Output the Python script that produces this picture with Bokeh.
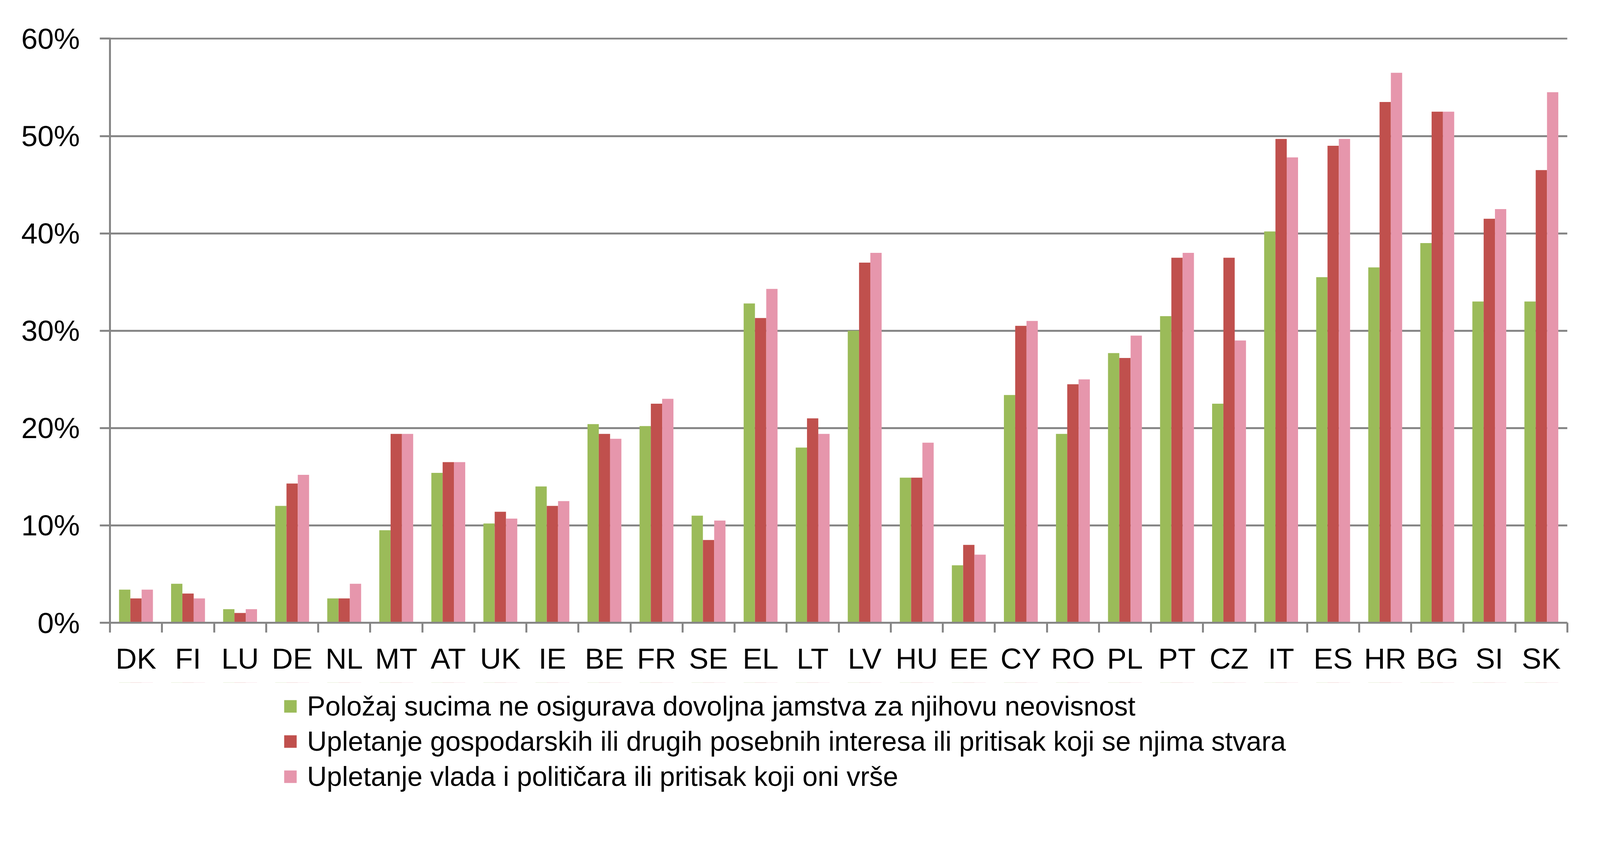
from bokeh.plotting import figure
from bokeh.layouts import column
from bokeh.models import (Range1d, LinearAxis, FixedTicker,
                          PrintfTickFormatter, CustomJSTickFormatter, Legend, LegendItem,
                          ColumnDataSource)
from bokeh.transform import dodge
from bokeh.embed import file_html
from bokeh.resources import INLINE

countries = ["DK", "FI", "LU", "DE", "NL", "MT", "AT", "UK", "IE", "BE", "FR", "SE", "EL", "LT",
             "LV", "HU", "EE", "CY", "RO", "PL", "PT", "CZ", "IT", "ES", "HR", "BG", "SI", "SK"]
polozaj = [3.4, 4.0, 1.4, 12.0, 2.5, 9.5, 15.4, 10.2, 14.0, 20.4, 20.2, 11.0, 32.8, 18.0,
           30.0, 14.9, 5.9, 23.4, 19.4, 27.7, 31.5, 22.5, 40.2, 35.5, 36.5, 39.0, 33.0, 33.0]
gospodarski = [2.5, 3.0, 1.0, 14.3, 2.5, 19.4, 16.5, 11.4, 12.0, 19.4, 22.5, 8.5, 31.3, 21.0,
               37.0, 14.9, 8.0, 30.5, 24.5, 27.2, 37.5, 37.5, 49.7, 49.0, 53.5, 52.5, 41.5, 46.5]
vlada = [3.4, 2.5, 1.4, 15.2, 4.0, 19.4, 16.5, 10.7, 12.5, 18.9, 23.0, 10.5, 34.3, 19.4,
         38.0, 18.5, 7.0, 31.0, 25.0, 29.5, 38.0, 29.0, 47.8, 49.7, 56.5, 52.5, 42.5, 54.5]
series_labels = [
    "Položaj sucima ne osigurava dovoljna jamstva za njihovu neovisnost",
    "Upletanje gospodarskih ili drugih posebnih interesa ili pritisak koji se njima stvara",
    "Upletanje vlada i političara ili pritisak koji oni vrše",
]
y_ticks = [0, 10, 20, 30, 40, 50, 60]

colors = ["#9BBB59", "#C0504D", "#E696AC"]
FONT = "Liberation Sans"
AXIS_GRAY = "#868686"

W = 4092
H_CHART = 1746
H_LEG = 339

n = len(countries)
centers = [i + 0.5 for i in range(n)]
columns = ["polozaj", "gospodarski", "vlada"]
source = ColumnDataSource(dict(country=countries, pos=centers, polozaj=polozaj,
                               gospodarski=gospodarski, vlada=vlada))

p = figure(width=W, height=H_CHART,
           x_range=Range1d(0, n), y_range=Range1d(0, 60.1),
           output_backend="svg", toolbar_location=None,
           x_axis_location=None, y_axis_location="left",
           min_border_left=281, min_border_right=80,
           min_border_top=96, min_border_bottom=153)
p.outline_line_color = None
p.background_fill_color = "white"
p.border_fill_color = "white"

bw = 0.217
offsets = [-bw, 0.0, bw]
for col, off, c in zip(columns, offsets, colors):
    p.vbar(x=dodge("pos", off), top=col, width=bw,
           bottom=0, source=source, fill_color=c, line_color=None)

# y axis
yax = p.yaxis[0]
yax.ticker = FixedTicker(ticks=y_ticks)
yax.formatter = PrintfTickFormatter(format="%d%%")
yax.axis_line_color = AXIS_GRAY
yax.axis_line_width = 5
yax.major_tick_line_color = AXIS_GRAY
yax.major_tick_line_width = 5
yax.major_tick_out = 26
yax.major_tick_in = 0
yax.minor_tick_line_color = None
yax.major_label_standoff = 51
yax.major_label_text_font = FONT
yax.major_label_text_font_size = "75px"
yax.major_label_text_color = "black"

p.ygrid.ticker = FixedTicker(ticks=y_ticks)
p.ygrid.grid_line_color = AXIS_GRAY
p.ygrid.grid_line_width = 5
p.xgrid.visible = False

# x axis: tick marks on category boundaries
edge_axis = LinearAxis(ticker=FixedTicker(ticks=list(range(n + 1))),
                       formatter=CustomJSTickFormatter(code="return ''"),
                       major_label_text_font_size="1px",
                       major_label_standoff=0,
                       axis_line_color=AXIS_GRAY, axis_line_width=5,
                       major_tick_line_color=AXIS_GRAY, major_tick_line_width=5,
                       major_tick_out=25, major_tick_in=0,
                       minor_tick_line_color=None)
p.add_layout(edge_axis, "below")

# x axis: category names at category centres
label_axis = LinearAxis(ticker=FixedTicker(ticks=centers),
                        formatter=CustomJSTickFormatter(args=dict(names=countries),
                                                        code="return names[Math.floor(tick)]"),
                        axis_line_color=None, major_tick_line_color=None,
                        minor_tick_line_color=None,
                        major_tick_out=0, major_tick_in=0,
                        major_label_standoff=24,
                        major_label_text_font=FONT,
                        major_label_text_font_size="75px",
                        major_label_text_color="black")
p.add_layout(label_axis, "below")

# legend panel (its bars lie far outside its own y range, only the legend shows)
pl = figure(width=W, height=H_LEG, x_range=Range1d(0, n), y_range=Range1d(-200, -190),
            output_backend="svg", toolbar_location=None,
            x_axis_location=None, y_axis_location=None,
            min_border_left=0, min_border_right=0, min_border_top=0, min_border_bottom=0)
pl.outline_line_color = None
pl.xgrid.visible = False
pl.ygrid.visible = False
leg_renderers = [pl.vbar(x=dodge("pos", off), top=col, width=bw, bottom=0, source=source,
                         fill_color=c, line_color=None)
                 for col, off, c in zip(columns, offsets, colors)]

legend = Legend(items=[LegendItem(label=l, renderers=[r]) for l, r in zip(series_labels, leg_renderers)],
                location=(442, 58),
                orientation="vertical",
                label_text_font=FONT, label_text_font_size="70px", label_text_color="black",
                glyph_width=40, glyph_height=40, label_height=80, label_standoff=23,
                spacing=10, padding=0, margin=0,
                border_line_color=None, background_fill_alpha=0)
pl.add_layout(legend, "center")

layout = column(p, pl, spacing=0)
open("out.html", "w").write(file_html(layout, INLINE))
